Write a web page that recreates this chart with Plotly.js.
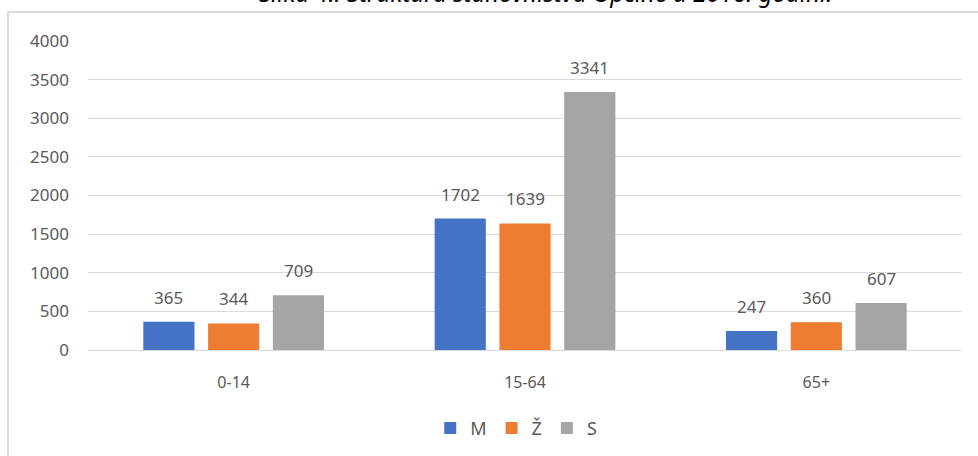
<!DOCTYPE html>
<html>
<head>
<meta charset="utf-8">
<script src="https://cdn.plot.ly/plotly-3.0.1.min.js"></script>
<style>
  html, body { margin: 0; padding: 0; background: #fff; overflow: hidden; }
  #frame { position: absolute; left: 7px; top: 11px; width: 1000px; height: 500px;
           border-top: 2px solid #d9d9d9; border-left: 2px solid #d9d9d9; }
  #chart { position: absolute; left: 0; top: 0; width: 978px; height: 456px; }
</style>
</head>
<body>
<div id="frame"></div>
<div id="chart"></div>
<script>
const categories = ["0-14", "15-64", "65+"];
const seriesNames = ["M", "Ž", "S"];
const valuesM = [365, 1702, 247];
const valuesZ = [344, 1639, 360];
const valuesS = [709, 3341, 607];
const yTicks = [0, 500, 1000, 1500, 2000, 2500, 3000, 3500, 4000];
const titleText = "Slika 4.: Struktura stanovništva Općine u 2016. godini.";

const colors = ["#4472c4", "#ed7d31", "#a5a5a5"];
const allValues = [valuesM, valuesZ, valuesS];
const fontFam = "Noto Sans, Open Sans, sans-serif";
const labelShift = [-64.7, 0, 64.7];

const traces = allValues.map((vals, i) => ({
  type: "bar",
  name: seriesNames[i],
  x: categories,
  y: vals,
  marker: { color: colors[i] },
  hoverinfo: "x+y+name"
}));

const labelAnnotations = [];
allValues.forEach((vals, i) => {
  vals.forEach((v, j) => {
    labelAnnotations.push({
      x: categories[j], y: v, xref: "x", yref: "y",
      text: String(v), showarrow: false,
      xshift: labelShift[i], yanchor: "bottom", yshift: 11,
      font: { family: fontFam, size: 17, color: "#595959" }
    });
  });
});

const layout = {
  width: 978,
  height: 456,
  margin: { l: 88, r: 16, t: 41, b: 106, autoexpand: false },
  paper_bgcolor: "rgba(0,0,0,0)",
  plot_bgcolor: "rgba(0,0,0,0)",
  barmode: "group",
  bargap: 0.333,
  bargroupgap: 0.21,
  showlegend: true,
  legend: {
    orientation: "h",
    x: 0.49, xanchor: "center",
    yref: "container",
    y: 0.061, yanchor: "middle",
    font: { family: fontFam, size: 18, color: "#595959" },
    itemwidth: 30,
    traceorder: "normal"
  },
  xaxis: {
    type: "category",
    automargin: false,
    showgrid: false,
    showline: false,
    zeroline: false,
    ticks: "",
    tickfont: { family: fontFam, size: 16, color: "#595959" },
    ticklabelstandoff: 21
  },
  yaxis: {
    range: [0, 4000],
    automargin: false,
    tickvals: yTicks,
    ticktext: yTicks.map(String),
    showgrid: true,
    gridcolor: "#d9d9d9",
    gridwidth: 1,
    zeroline: true,
    zerolinecolor: "#d9d9d9",
    zerolinewidth: 1,
    showline: false,
    ticks: "",
    ticklabelstandoff: 18,
    tickfont: { family: fontFam, size: 17, color: "#595959" }
  },
  annotations: [{
    text: "<i>" + titleText + "</i>",
    xref: "paper", yref: "paper",
    x: 0.524, xanchor: "center",
    y: 1.098, yanchor: "bottom",
    showarrow: false,
    font: { family: fontFam, size: 24, color: "#000000" }
  }].concat(labelAnnotations)
};

Plotly.newPlot("chart", traces, layout, { displayModeBar: false, staticPlot: true });
</script>
</body>
</html>
